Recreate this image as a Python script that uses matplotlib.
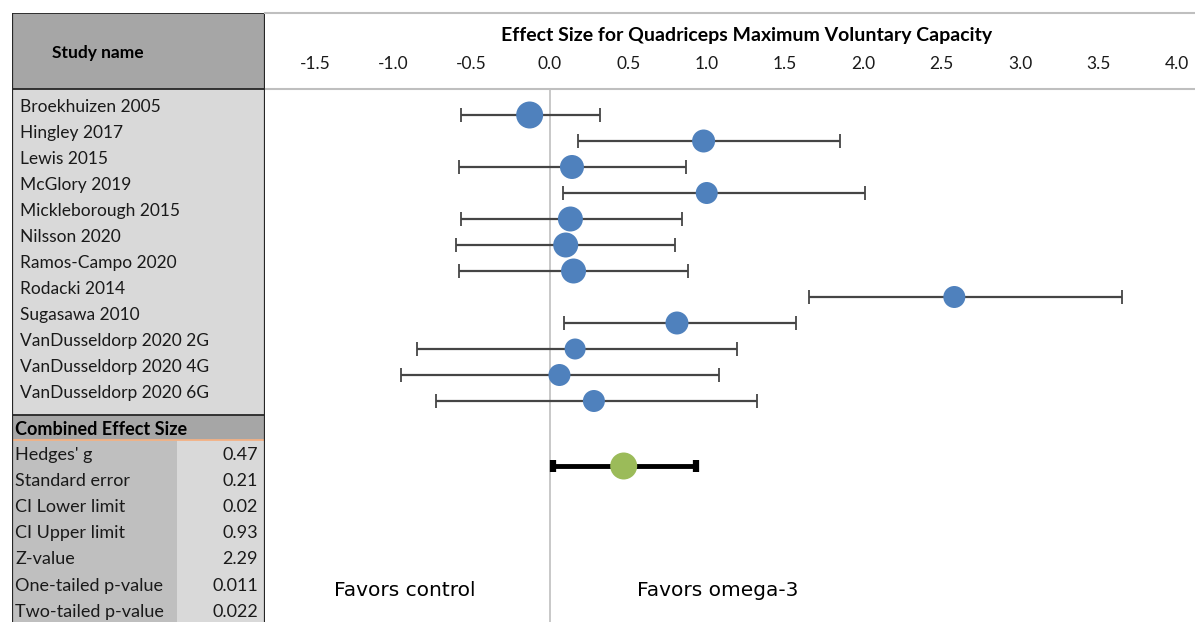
import matplotlib
matplotlib.use("Agg")
from matplotlib import pyplot as plt
from matplotlib.patches import Rectangle
from matplotlib.lines import Line2D

plt.rcParams['font.family'] = ['Lato', 'DejaVu Sans']

# study level effect sizes (Hedges' g) with 95% CI
studies = ["Broekhuizen 2005", "Hingley 2017", "Lewis 2015", "McGlory 2019",
           "Mickleborough 2015", "Nilsson 2020", "Ramos-Campo 2020", "Rodacki 2014",
           "Sugasawa 2010", "VanDusseldorp 2020 2G", "VanDusseldorp 2020 4G",
           "VanDusseldorp 2020 6G"]
effect = [-0.13, 0.98, 0.14, 1.00, 0.13, 0.10, 0.15, 2.58, 0.81, 0.16, 0.06, 0.28]
ci_low = [-0.57, 0.18, -0.58, 0.08, -0.57, -0.60, -0.58, 1.65, 0.09, -0.85, -0.95, -0.73]
ci_high = [0.32, 1.85, 0.87, 2.01, 0.84, 0.80, 0.88, 3.65, 1.57, 1.19, 1.08, 1.32]
# marker diameters in pixels (relative study weight)
marker_px = [27, 23, 24, 22, 25, 25, 25, 22, 23, 21, 22, 22]

# pooled result
pooled_g = 0.47
pooled_low = 0.02
pooled_high = 0.93
stat_names = ["Hedges' g", "Standard error", "CI Lower limit", "CI Upper limit",
              "Z-value", "One-tailed p-value", "Two-tailed p-value"]
stat_values = ["0.47", "0.21", "0.02", "0.93", "2.29", "0.011", "0.022"]

xticks = [-1.5, -1.0, -0.5, 0.0, 0.5, 1.0, 1.5, 2.0, 2.5, 3.0, 3.5, 4.0]

W, H = 1195, 622
fig = plt.figure(figsize=(W / 100, H / 100), dpi=100)

def fx(px):
    return px / W

def fy(py):
    return 1 - py / H

# ---- forest plot axes ----
ax = fig.add_axes([fx(265), 0, fx(W - 265), fy(89)])
ax.set_xlim(-1.819, 4.116)
pooled_row = 13.5
ax.set_ylim(19.5, -1)

rows = list(range(len(studies)))
ax.errorbar(effect, rows, xerr=[[e - l for e, l in zip(effect, ci_low)],
                                [h - e for e, h in zip(effect, ci_high)]],
            fmt='none', ecolor='#454545', elinewidth=1.6, capsize=5, capthick=1.3, zorder=2)
ax.scatter(effect, rows, s=[(d * 0.72) ** 2 for d in marker_px], color='#4f81bd',
           edgecolors='none', zorder=3)

ax.errorbar([pooled_g], [pooled_row], xerr=[[pooled_g - pooled_low], [pooled_high - pooled_g]],
            fmt='none', ecolor='black', elinewidth=3.5, capsize=4, capthick=4.5, zorder=2)
ax.scatter([pooled_g], [pooled_row], s=(27 * 0.72) ** 2, color='#9bbb59',
           edgecolors='none', zorder=3)

ax.axvline(0, color='#bfbfbf', lw=1.2, zorder=1)

ax.xaxis.tick_top()
ax.set_xticks(xticks)
ax.set_xticklabels(["%.1f" % t for t in xticks], fontsize=12.5, color='#1a1a1a')
ax.tick_params(axis='x', length=0, pad=12)
ax.set_yticks([])
for side in ['left', 'right', 'bottom']:
    ax.spines[side].set_visible(False)
ax.spines['top'].set_color('#bfbfbf')
ax.spines['top'].set_linewidth(1.5)

ax.text(-0.93, 18.27, "Favors control", ha='center', va='center', fontsize=14.5,
        family='DejaVu Sans')
ax.text(1.07, 18.27, "Favors omega-3", ha='center', va='center', fontsize=14.5,
        family='DejaVu Sans')

fig.lines.append(Line2D([fx(265), 1], [fy(13), fy(13)], transform=fig.transFigure,
                        color='#bfbfbf', lw=1.5))
fig.text(fx(747), fy(35), "Effect Size for Quadriceps Maximum Voluntary Capacity",
         ha='center', va='center', fontsize=14, fontweight='bold')

# ---- left hand table ----
tab = fig.add_axes([fx(12), 0, fx(265 - 12), fy(13)])
tab.set_xlim(12, 265)
tab.set_ylim(622, 13)
tab.axis('off')

tab.add_patch(Rectangle((12, 13), 253, 76, facecolor='#a6a6a6', edgecolor='none'))
tab.add_patch(Rectangle((12, 89), 253, 326, facecolor='#d9d9d9', edgecolor='none'))
tab.add_patch(Rectangle((12, 415), 253, 25, facecolor='#a6a6a6', edgecolor='none'))
tab.add_patch(Rectangle((12, 440), 165, 182, facecolor='#bfbfbf', edgecolor='none'))
tab.add_patch(Rectangle((177, 440), 88, 182, facecolor='#d9d9d9', edgecolor='none'))

for y in [13, 89, 415]:
    tab.plot([12, 265], [y, y], color='#262626', lw=1.3)
tab.plot([12, 265], [440, 440], color='#f4b183', lw=1.3)
tab.plot([12, 12], [13, 622], color='#262626', lw=1.6)
tab.plot([265, 265], [13, 622], color='#262626', lw=1.6)

tab.text(98, 53, "Study name", ha='center', va='center', fontsize=12.5, fontweight='bold')
for i, name in enumerate(studies):
    tab.text(20, 106.5 + 26 * i, name, ha='left', va='center', fontsize=12.5, color='#1a1a1a')
tab.text(15, 429, "Combined Effect Size", ha='left', va='center', fontsize=13,
         fontweight='bold')
for i, (name, val) in enumerate(zip(stat_names, stat_values)):
    y = 454.5 + 26.2 * i
    tab.text(15, y, name, ha='left', va='center', fontsize=13, color='#1a1a1a')
    tab.text(258, y, val, ha='right', va='center', fontsize=13, color='#1a1a1a')

fig.savefig("out.png", dpi=100)
